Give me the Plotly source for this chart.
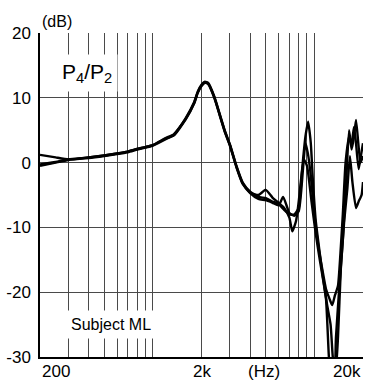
import numpy as np
import plotly.graph_objects as go

# Transfer function P4/P2 (dB) vs frequency (Hz), three repeated measurements
freq_a = [200, 250, 300, 400, 500, 600, 700, 800, 900, 1000, 1200, 1350, 1600, 1800,
          1900, 2000, 2100, 2200, 2400, 2600, 2800, 3000, 3300, 3600, 4000, 4500, 5000,
          5500, 6000, 6500, 7000, 7500, 8000, 8400, 8800, 9150, 9500, 9800, 10200, 10800,
          11200, 11800, 12300, 12700, 13200, 13600, 14200, 15000, 15800, 16400, 17000,
          17600, 18100, 18700, 19300, 20000]
db_a = [1.2, 0.8, 0.5, 0.7, 1.0, 1.3, 1.6, 2.0, 2.3, 2.6, 3.6, 4.3, 6.9, 9.3,
        11.0, 12.0, 12.5, 12.3, 10.2, 7.4, 4.8, 2.8, -0.6, -3.1, -4.5, -5.3, -5.5,
        -6.0, -6.4, -7.3, -8.0, -8.0, -7.0, -1.0, 4.0, 6.3, 3.0, -3.0, -9.0, -14.0,
        -17.0, -21.0, -30.0, -34.0, -34.0, -27.0, -20.0, -12.0, -2.0, 5.0, 2.0,
        4.0, 6.6, 3.0, 0.0, 1.0]

freq_b = [200, 250, 300, 400, 500, 600, 700, 800, 900, 1000, 1200, 1350, 1600, 1800,
          1900, 2000, 2100, 2200, 2400, 2600, 2800, 3000, 3300, 3600, 4000, 4500, 5000,
          5500, 6000, 6400, 6700, 7000, 7500, 8000, 8500, 8800, 9100, 9500, 10000, 10600,
          11200, 11800, 12400, 12900, 13400, 14000, 14500, 15000, 15600, 16400, 17000,
          17600, 18100, 18800, 19400, 20000]
db_b = [-0.3, 0.1, 0.5, 0.8, 1.1, 1.4, 1.7, 2.1, 2.4, 2.7, 3.7, 4.2, 6.7, 9.1,
        10.8, 11.8, 12.3, 12.1, 10.0, 7.2, 4.6, 2.6, -0.8, -3.3, -4.7, -5.6, -5.8,
        -6.2, -6.6, -5.3, -6.5, -7.8, -8.2, -7.5, -1.0, 3.0, 1.5, -2.0, -8.0, -13.0,
        -16.5, -19.5, -21.0, -22.0, -20.5, -19.0, -14.0, -8.0, 0.0, 4.0, 3.0,
        5.5, 3.0, -1.0, 1.0, 3.0]

freq_c = [200, 250, 300, 400, 500, 600, 700, 800, 900, 1000, 1200, 1350, 1600, 1800,
          1900, 2000, 2100, 2200, 2400, 2600, 2800, 3000, 3300, 3600, 4000, 4500, 5000,
          5500, 6000, 6500, 7000, 7300, 7700, 8000, 8600, 9000, 9600, 10200, 10800,
          11400, 12000, 12600, 13000, 13500, 14000, 14600, 15300, 16000, 16600, 17200,
          18100, 18800, 19600, 20000]
db_c = [-0.5, 0.0, 0.4, 0.8, 1.1, 1.4, 1.7, 2.1, 2.4, 2.7, 3.8, 4.4, 6.8, 9.2,
        10.9, 11.9, 12.4, 12.2, 10.1, 7.3, 4.7, 2.7, -0.7, -3.2, -4.6, -5.0, -4.2,
        -5.4, -6.2, -7.0, -8.5, -10.6, -9.0, -6.0, 0.5, -0.5, -6.0, -11.0, -15.0,
        -18.5, -22.0, -25.0, -30.0, -33.0, -27.0, -16.0, -9.0, -4.0, 1.0, -3.0,
        -7.0, -6.0, -5.0, -3.0]

# Vertical grid frequencies and labelled ticks
grid_freqs = [300, 400, 500, 600, 700, 800, 900, 1000,
              2000, 3000, 4000, 5000, 6000, 7000, 8000, 9000, 10000, 20000]
x_tick_freqs = [200, 2000, 20000]
x_tick_labels = ["200", "2k", "20k"]
y_ticks = [-30, -20, -10, 0, 10, 20]

FONT = "Liberation Sans, Arial, Helvetica, sans-serif"

fig = go.Figure()
for f, d in [(freq_a, db_a), (freq_b, db_b), (freq_c, db_c)]:
    fig.add_trace(go.Scatter(
        x=f, y=d, mode="lines",
        line=dict(color="black", width=2.4, shape="spline", smoothing=0.5),
        hoverinfo="skip"))

fig.update_layout(
    width=365, height=384,
    margin=dict(l=40, r=2, t=33, b=27),
    paper_bgcolor="white", plot_bgcolor="white",
    showlegend=False,
    font=dict(family=FONT, size=16, color="black"),
    xaxis=dict(type="log", range=[np.log10(200), np.log10(20000)],
               tickvals=grid_freqs, showticklabels=False, ticks="",
               showgrid=True, gridcolor="#4a4a4a", gridwidth=1,
               showline=True, linecolor="black", linewidth=1.5,
               zeroline=False),
    yaxis=dict(range=[-30, 20], tickvals=y_ticks,
               ticktext=[str(v) for v in y_ticks], ticks="",
               ticklabelstandoff=4,
               tickfont=dict(family=FONT, size=17, color="black"),
               showgrid=True, gridcolor="#4a4a4a", gridwidth=1,
               showline=True, linecolor="black", linewidth=1.5,
               zeroline=False),
)

anchors = ["left", "center", "right"]
for f, lab, anc in zip(x_tick_freqs, x_tick_labels, anchors):
    fig.add_annotation(x=np.log10(f), xref="x", y=0, yref="paper",
                       text=lab, showarrow=False, xanchor=anc, yanchor="top",
                       yshift=-3, font=dict(family=FONT, size=17, color="black"))

fig.add_annotation(x=0.693, xref="paper", y=0, yref="paper", text="(Hz)",
                   showarrow=False, xanchor="center", yanchor="top", yshift=-3,
                   font=dict(family=FONT, size=17, color="black"))
fig.add_annotation(x=0, xref="paper", y=1, yref="paper", text="(dB)",
                   showarrow=False, xanchor="left", yanchor="bottom", yshift=1,
                   font=dict(family=FONT, size=16, color="black"))

fig.add_annotation(x=np.log10(390), y=13.9, text="P<sub>4</sub>/P<sub>2</sub>",
                   showarrow=False, xanchor="center", yanchor="middle",
                   bgcolor="white", borderpad=5,
                   font=dict(family=FONT, size=21, color="black"))
fig.add_annotation(x=np.log10(549), y=-25, text="Subject ML",
                   showarrow=False, xanchor="center", yanchor="middle",
                   bgcolor="white", borderpad=5,
                   font=dict(family=FONT, size=16, color="black"))

fig.write_html("out.html")
